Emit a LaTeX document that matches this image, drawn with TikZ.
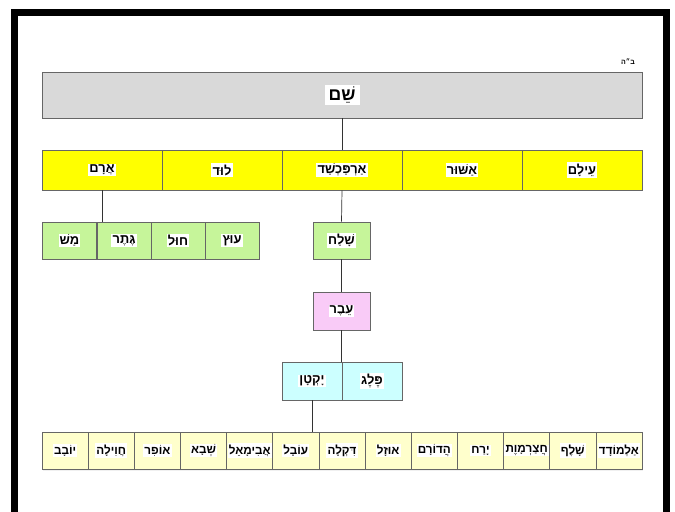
\documentclass[tikz,border=0pt]{standalone}
\usepackage{fontspec}
\newfontfamily\hebfont[Script=Hebrew]{Liberation Sans}
\TeXXeTstate=1
\usetikzlibrary{calc, shadows}
\definecolor{shemgray}{HTML}{D9D9D9}
\definecolor{sonyellow}{HTML}{FFFF00}
\definecolor{aramgreen}{HTML}{C6F59A}
\definecolor{everpink}{HTML}{F9CBF7}
\definecolor{pelegcyan}{HTML}{CCFFFF}
\definecolor{yoktancream}{HTML}{FFFFCC}
\setlength{\fboxsep}{1pt}
\newcommand{\heb}[1]{{\hebfont\bfseries\colorbox{white}{\beginR #1\endR}}}

\begin{document}
\begin{tikzpicture}[x=0.03cm, y=-0.03cm, line cap=butt, line join=miter,
	cell/.style={draw=black!60, line width=0.5pt, inner sep=0pt, font=\fontsize{11}{13}\selectfont},
	link/.style={draw=black!80, line width=0.6pt}]
		\useasboundingbox (0,0) rectangle (675,512);
		
		% ===== frame (open at the bottom) =====
		\draw[line width=7*0.03cm] (14.5,512) -- (14.5,12.5) -- (666,12.5) -- (666,512);
		\node[font=\fontsize{6}{7}\selectfont] (bh) at (628,62) {\heb{ב״ה}};
		
		% ===== Shem =====
		\node[cell, fill=shemgray, minimum width=600*0.03cm, minimum height=46*0.03cm,
		font=\fontsize{15}{18}\selectfont] (shem) at (342,95) {\heb{\,שֵׁם\,}};
		
		% ===== sons of Shem =====
		\foreach \n/\x/\t in {aram/102/אֲרָם, lud/222/לוּד, arpachshad/342/אַרְפַּכְשַׁד,
			ashur/462/אַשּׁוּר, elam/582/עֵילָם}{
			\node[cell, fill=sonyellow, minimum width=120*0.03cm, minimum height=40*0.03cm]
			(\n) at (\x,170) {\heb{\t}};
		}
		
		% ===== sons of Aram =====
		\foreach \n/\x/\t in {mash/69.5/מַשׁ, geter/124/גֶּתֶר, chul/178/חוּל, utz/232/עוּץ}{
			\node[cell, fill=aramgreen, minimum width=54*0.03cm, minimum height=37*0.03cm]
			(\n) at (\x,240.5) {\heb{\t}};
		}
		\node[cell, fill=aramgreen, minimum width=57*0.03cm, minimum height=37*0.03cm]
		(shelach) at (341.5,240.5) {\heb{שָׁלַח}};
		
		% ===== Ever, Peleg and Yoktan =====
		\node[cell, fill=everpink, minimum width=57*0.03cm, minimum height=38*0.03cm]
		(ever) at (341.5,311) {\heb{עֵבֶר}};
		\node[cell, fill=pelegcyan, minimum width=60*0.03cm, minimum height=38*0.03cm]
		(yoktan) at (312,381) {\heb{יָקְטָן}};
		\node[cell, fill=pelegcyan, minimum width=60*0.03cm, minimum height=38*0.03cm]
		(peleg) at (372,381) {\heb{פֶּלֶג}};
		
		% ===== sons of Yoktan =====
		\foreach \n/\t [count=\i] in {yovav/יוֹבָב, chavila/חֲוִילָה, ofir/אוֹפִר, sheva/שְׁבָא,
			avimael/אֲבִימָאֵל, oval/עוֹבָל, dikla/דִּקְלָה, uzal/אוּזָל, hadoram/הֲדוֹרָם,
			yerach/יָרַח, chatzarmavet/חֲצַרְמָוֶת, shelef/שָׁלֶף, almodad/אַלְמוֹדָד}{
			\node[cell, fill=yoktancream, minimum width=600/13*0.03cm, minimum height=37*0.03cm,
			font=\fontsize{10}{12}\selectfont,
			drop shadow={opacity=0.12, shadow xshift=1pt, shadow yshift=-2pt}]
			(\n) at ({42+600/13*(\i-0.5)},450.5) {\heb{\t}};
		}
		
		% ===== connectors =====
		\draw[link] (shem.south) -- (arpachshad.north);
		\draw[link] (aram.south) -- (aram.south |- geter.north);
		\draw[link] (arpachshad.south) -- (shelach.north);
		\draw[link] (shelach.south) -- (ever.north);
		\draw[link] (ever.south) -- (ever.south |- peleg.north);
		\draw[link] (yoktan.south) -- (yoktan.south |- oval.north);
		
	\end{tikzpicture}
\end{document}
